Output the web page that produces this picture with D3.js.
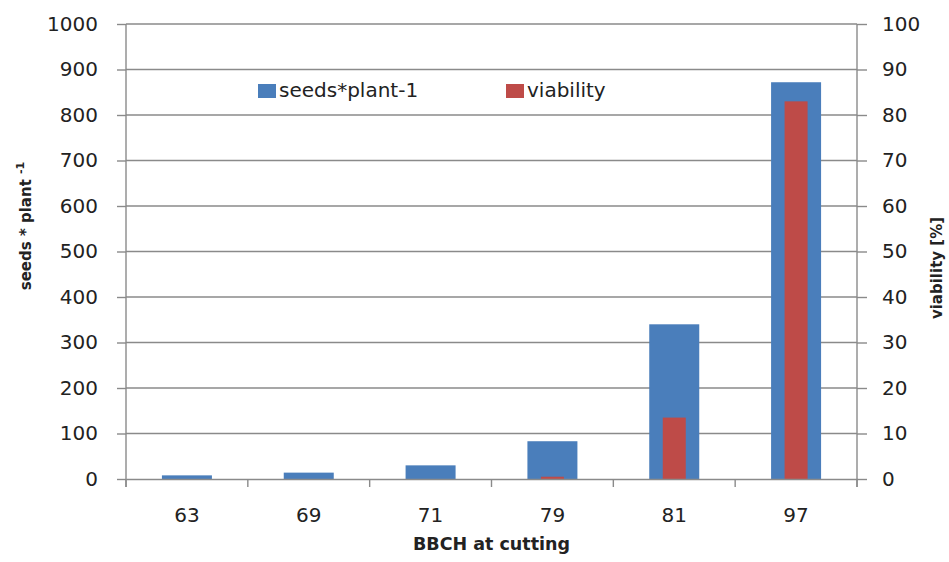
<!DOCTYPE html>
<html><head><meta charset="utf-8">
<script src="https://cdn.jsdelivr.net/npm/d3@7/dist/d3.min.js"></script>
<style>body{margin:0;background:#fff}svg{display:block}text{font-family:"DejaVu Sans",sans-serif;fill:#222}</style>
</head><body><svg id="c" width="949" height="562"></svg>
<script>
const categories = ["63","69","71","79","81","97"];
const seeds = [8, 14, 30, 83, 340, 872];
const viability = [0, 0, 0, 0.5, 13.5, 83];
const leftTicks = [0,100,200,300,400,500,600,700,800,900,1000];
const rightTicks = [0,10,20,30,40,50,60,70,80,90,100];
const legendItems = ["seeds*plant-1", "viability"];
const colors = ["#4a7ebb", "#be4b48"];

const svg = d3.select("#c");
const L = 126, R = 857, T = 24, B = 479;
const FF = "'DejaVu Sans',sans-serif";
const x = d3.scaleBand().domain(categories).range([L, R]);
const yL = d3.scaleLinear().domain([0,1000]).range([B, T]);
const yR = d3.scaleLinear().domain([0,100]).range([B, T]);
const grid = "#8a8a8a";

svg.append("g").selectAll("line").data(leftTicks.slice(1)).join("line")
  .attr("x1", L).attr("x2", R).attr("y1", d=>yL(d)).attr("y2", d=>yL(d))
  .attr("stroke", grid).attr("stroke-width", 1.4);

const bw = 50, rw = 23;
svg.append("g").selectAll("rect").data(categories).join("rect")
  .attr("x", d=>x(d)+x.bandwidth()/2-bw/2).attr("width", bw)
  .attr("y", (d,i)=>yL(seeds[i])).attr("height", (d,i)=>B-yL(seeds[i]))
  .attr("fill", colors[0]);
svg.append("g").selectAll("rect").data(categories).join("rect")
  .attr("x", d=>x(d)+x.bandwidth()/2-rw/2).attr("width", rw)
  .attr("y", (d,i)=>yR(viability[i])).attr("height", (d,i)=>B-yR(viability[i]))
  .attr("fill", colors[1]);

const gl = svg.append("g").attr("transform", `translate(${L},0)`)
  .call(d3.axisLeft(yL).tickValues(leftTicks).tickFormat(d3.format("d")).tickSize(9).tickPadding(19));
const gr = svg.append("g").attr("transform", `translate(${R},0)`)
  .call(d3.axisRight(yR).tickValues(rightTicks).tickFormat(d3.format("d")).tickSize(10).tickPadding(15));
const gb = svg.append("g").attr("transform", `translate(0,${B})`)
  .call(d3.axisBottom(x).tickSize(0).tickPadding(29));
svg.append("g").selectAll("line").data(d3.range(categories.length+1)).join("line")
  .attr("x1", i=>L+i*x.bandwidth()).attr("x2", i=>L+i*x.bandwidth())
  .attr("y1", B).attr("y2", B+8).attr("stroke", grid).attr("stroke-width", 1.4);
[gl,gr,gb].forEach(g=>{
  g.selectAll(".domain").attr("stroke", grid).attr("stroke-width", 1.4);
  g.selectAll(".tick line").attr("stroke", grid).attr("stroke-width", 1.4);
  g.selectAll("text").attr("font-size", 20).attr("fill", "#222").attr("font-family", FF);
});
gl.select(".domain").attr("d", `M0,${B+8}V${T}`);
gr.select(".domain").attr("d", `M0,${B+8}V${T}`);

const lt = svg.append("text").attr("transform", `translate(31,226) rotate(-90)`).attr("text-anchor","middle")
  .attr("font-size", 15).attr("font-weight","bold");
lt.append("tspan").text("seeds * plant ");
lt.append("tspan").attr("dy", -7).attr("font-size", 11).text("-1");
svg.append("text").attr("transform", `translate(942,268) rotate(-90)`).attr("text-anchor","middle")
  .attr("font-size", 15).attr("font-weight","bold").text("viability [%]");
svg.append("text").attr("x", (L+R)/2).attr("y", 550).attr("text-anchor","middle")
  .attr("font-size", 17.5).attr("font-weight","bold").text("BBCH at cutting");

const legX = [258, 506];
const lg = svg.append("g");
lg.selectAll("rect").data(legendItems).join("rect").attr("x", (d,i)=>legX[i]).attr("y", 84)
  .attr("width", 18).attr("height", 14).attr("fill", (d,i)=>colors[i]);
lg.selectAll("text").data(legendItems).join("text").attr("x", (d,i)=>legX[i]+21).attr("y", 97)
  .attr("font-size", 20).text(d=>d);
</script></body></html>
